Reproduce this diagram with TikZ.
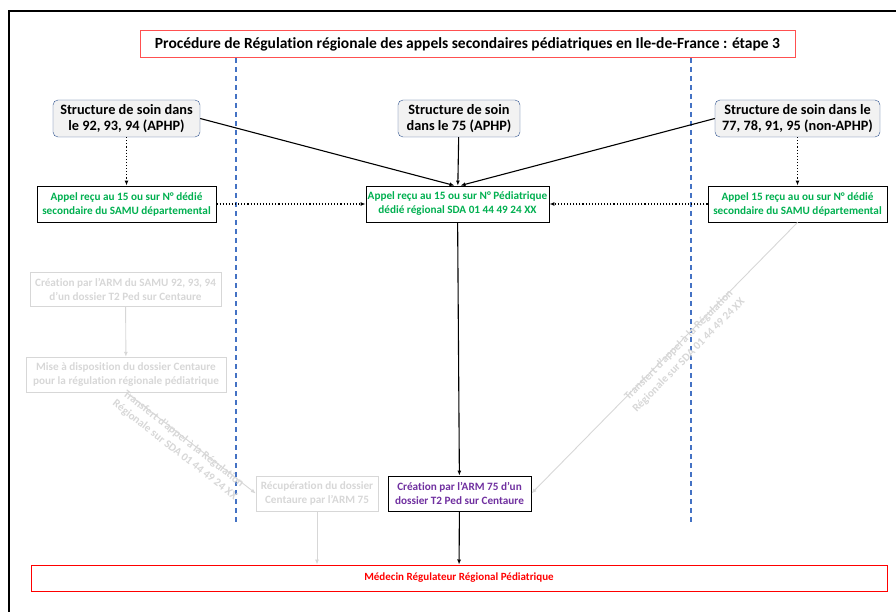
\documentclass[tikz,border=0pt]{standalone}
\usepackage{fontspec}
\setmainfont{Carlito}[Ligatures=NoCommon]
\usetikzlibrary{arrows.meta}

\definecolor{titlered}{RGB}{255,80,80}
\definecolor{bluedash}{RGB}{68,114,196}
\definecolor{greentxt}{RGB}{0,176,80}
\definecolor{purpletxt}{RGB}{112,48,160}
\definecolor{fadegray}{RGB}{215,215,215}
\definecolor{boxblue}{RGB}{47,82,143}
\definecolor{boxfill}{RGB}{242,242,242}

\begin{document}
\begin{tikzpicture}[x=1pt, y=-1pt,
    struct/.style={draw=boxblue, fill=boxfill, rounded corners=5pt, align=center,
        font=\bfseries\fontsize{14.3}{16.5}\selectfont, minimum height=37, inner sep=1pt},
    appel/.style={draw, line width=0.9pt, fill=white, text=greentxt, align=center,
        font=\bfseries\fontsize{11.2}{14}\selectfont, minimum height=36, inner sep=1pt},
    faded/.style={draw=fadegray, text=fadegray, align=center,
        font=\bfseries\fontsize{11.2}{14}\selectfont, inner sep=1pt},
    tip/.style={-{Latex[length=5pt,width=4pt]}},
    flow/.style={tip, line width=1.1pt},
    dots/.style={tip, line width=1.1pt, dotted},
    fadeflow/.style={tip, draw=fadegray, line width=0.9pt}]
    \useasboundingbox (0,0) rectangle (896,612);
    \clip (0,0) rectangle (896,612);
    \draw[line width=1.6pt] (9,11) rectangle (920,640);
    % titre
    \node[draw=titlered, line width=1pt, minimum width=655, minimum height=27,
        font=\bfseries\fontsize{15.5}{17}\selectfont] (title) at (467.5,44.5)
        {Procédure de Régulation régionale des appels secondaires pédiatriques en Ile-de-France : étape 3};
    \draw[bluedash, line width=1.2pt, dash pattern=on 5pt off 4pt] (236,58) -- (236,524);
    \draw[bluedash, line width=1.2pt, dash pattern=on 5pt off 4pt] (691,58) -- (691,524);
    % structures
    \node[struct, minimum width=147] (s92) at (126.5,118.5) {Structure de soin dans\\le 92, 93, 94 (APHP)};
    \node[struct, minimum width=122] (s75) at (459,118.5) {Structure de soin\\dans le 75 (APHP)};
    \node[struct, minimum width=165] (s77) at (797.5,118.5) {Structure de soin dans le\\77, 78, 91, 95 (non-APHP)};
    % appels
    \node[appel, minimum width=179] (a92) at (126.5,204) {Appel reçu au 15 ou sur N° dédié\\secondaire du SAMU départemental};
    \node[appel, minimum width=183] (a75) at (457.5,204) {Appel reçu au 15 ou sur N° Pédiatrique\\dédié régional SDA 01 44 49 24 XX};
    \node[appel, minimum width=179] (a77) at (797.5,204) {Appel 15 reçu au ou sur N° dédié\\secondaire du SAMU départemental};
    % ancien circuit
    \node[faded, minimum width=191, minimum height=34] (c92) at (125.5,289) {Création par l’ARM du SAMU 92, 93, 94\\d’un dossier T2 Ped sur Centaure};
    \node[faded, minimum width=200, minimum height=35] (mise) at (126,374.5) {Mise à disposition du dossier Centaure\\pour la régulation régionale pédiatrique};
    \node[faded, minimum width=122, minimum height=35] (recup) at (317,493.5) {Récupération du dossier\\Centaure par l’ARM 75};
    % creation et medecin
    \node[appel, text=purpletxt, minimum width=143, minimum height=35] (c75) at (459.5,493.5) {Création par l’ARM 75 d’un\\dossier T2 Ped sur Centaure};
    \node[draw=red, line width=1pt, text=red, minimum width=856, minimum height=26,
        font=\bfseries\fontsize{11}{13}\selectfont] (med) at (459,578) {Médecin Régulateur Régional Pédiatrique};

    \draw[dots] (s92) -- (a92);
    \draw[dots] (s77) -- (a77);
    \draw[dots] (a92) -- (a75);
    \draw[dots] (a77) -- (a75);
    \draw[flow] (s92.east) -- ([xshift=-3pt]a75.north);
    \draw[flow] (s75) -- (a75);
    \draw[flow] (s77.west) -- ([xshift=3pt]a75.north);
    \draw[flow] (a75) -- (c75);
    \draw[flow] (c75) -- (med);

    \draw[fadeflow] (c92) -- (mise);
    \draw[fadeflow] (mise.south) -- (recup.west)
        node[pos=0.45, sloped, below=-5pt, faded, draw=none] {Transfert d’appel à la Régulation\\Régionale sur SDA 01 44 49 24 XX};
    \draw[fadeflow] (a77.south) -- (c75.east)
        node[pos=0.45, sloped, below=-5pt, faded, draw=none] {Transfert d’appel à la Régulation\\Régionale sur SDA 01 44 49 24 XX};
    \draw[fadeflow] (recup.south) -- (recup.south |- med.north);
\end{tikzpicture}
\end{document}
